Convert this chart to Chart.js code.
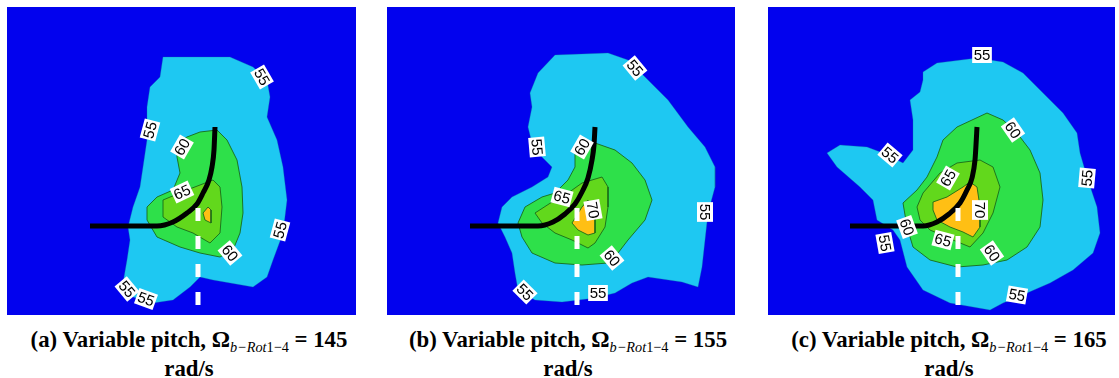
<!DOCTYPE html>
<html>
<head>
<meta charset="utf-8">
<script src="https://cdn.jsdelivr.net/npm/chart.js@4.4.1/dist/chart.umd.min.js"></script>
<style>
  html, body { margin: 0; padding: 0; background: #ffffff; width: 1119px; height: 378px; overflow: hidden; }
  .panel { position: absolute; top: 7px; height: 308px; }
  .cap { position: absolute; top: 326px; width: 420px; text-align: center; font-family: "Liberation Serif", "DejaVu Serif", serif; font-weight: bold; font-size: 24px; line-height: 26px; color: #000; transform: scaleX(0.95); transform-origin: center top; }
  .cap i { font-weight: normal; font-size: 15px; position: relative; top: 5px; }
</style>
</head>
<body>
<div class="panel" style="left:7px;width:349px"><canvas id="ca"></canvas></div>
<div class="panel" style="left:387px;width:348px"><canvas id="cb"></canvas></div>
<div class="panel" style="left:768px;width:347px"><canvas id="cc"></canvas></div>
<div class="cap" style="left:-21px">(a) Variable pitch, Ω<i>b−Rot</i><i style="font-style:normal">1−4</i> = 145<br>rad/s</div>
<div class="cap" style="left:358px">(b) Variable pitch, Ω<i>b−Rot</i><i style="font-style:normal">1−4</i> = 155<br>rad/s</div>
<div class="cap" style="left:739px">(c) Variable pitch, Ω<i>b−Rot</i><i style="font-style:normal">1−4</i> = 165<br>rad/s</div>
<script>
// ---- Data: contour outlines (in plot units), one list per level and panel ----
const captions = ["145", "155", "165"];
const levels = [55, 60, 65, 70];
const levelColors = ["#1ec8f2", "#2ee04a", "#62d81c", "#ffbf14"];

// axis extents per panel [xmin, xmax, ymin, ymax]
const extentA = [7, 356, 7, 315];
const extentB = [12, 360, 7, 315];
const extentC = [18, 365, 7, 315];

// Panel (a) 145 rad/s
const a55 = [[163,57],[230,57],[253,67],[267,80],[270,97],[267,117],[277,140],[283,167],[287,200],[283,233],[273,260],[267,277],[253,287],[213,280],[200,277],[190,287],[173,300],[153,303],[133,297],[123,283],[127,260],[130,240],[128,227],[133,207],[140,187],[143,167],[147,140],[147,107],[150,87],[160,77],[163,57]];
const a60 = [[187,137],[200,132],[217,130],[227,140],[237,160],[242,187],[243,213],[240,233],[233,250],[220,257],[200,253],[180,247],[157,237],[147,220],[147,207],[157,197],[173,190],[180,173],[177,157],[177,143],[187,137]];
const a65 = [[163,200],[187,190],[213,180],[220,187],[222,207],[220,233],[210,243],[193,233],[177,227],[163,217],[163,200]];
const a70 = [[203,213],[208,207],[211,210],[211,223],[205,220],[203,213]];
const aPath = [[90,226],[157,226],[173,222],[187,213],[197,204],[203,193],[209,180],[212,167],[214,150],[215,127]];
const aDash = [[198,208],[198,305]];
const aLabels = [["55",262,77,60],["55",150,130,-75],["60",182,147,-60],["65",182,192,-25],["55",280,230,-75],["60",230,253,50],["55",127,289,50],["55",146,299,20]];

// Panel (b) 155 rad/s
const b55 = [[180,55],[233,53],[253,60],[273,80],[293,100],[313,127],[330,147],[340,167],[340,187],[333,213],[330,240],[327,267],[323,287],[307,282],[273,277],[257,283],[240,293],[220,298],[187,302],[160,300],[143,290],[140,273],[137,253],[130,237],[123,223],[127,207],[137,197],[157,187],[173,177],[177,167],[167,157],[157,143],[153,127],[157,107],[155,93],[163,73],[180,55]];
const b60 = [[200,153],[220,143],[240,150],[257,163],[270,180],[277,200],[270,220],[253,240],[243,253],[233,263],[207,265],[180,263],[157,253],[147,237],[143,223],[150,207],[167,197],[180,193],[193,180],[200,167],[200,153]];
const b65 = [[160,213],[177,202],[193,193],[207,183],[227,177],[233,187],[233,207],[230,227],[220,243],[213,248],[197,240],[180,233],[167,223],[160,213]];
const b70 = [[197,223],[207,207],[213,200],[220,213],[220,233],[213,235],[203,230],[197,223]];
const bPath = [[95,226],[163,226],[178,222],[190,214],[200,204],[207,192],[213,178],[217,160],[219,145],[220,127]];
const bDash = [[202,208],[202,305]];
const bLabels = [["55",260,68,50],["55",162,147,85],["60",207,147,-60],["65",187,197,15],["70",218,210,80],["55",330,212,90],["60",237,258,50],["55",150,292,45],["55",223,293,0]];

// Panel (c) 165 rad/s
const c55 = [[173,72],[187,63],[227,58],[253,62],[273,73],[293,93],[313,113],[327,133],[330,153],[337,177],[347,207],[350,233],[343,253],[323,270],[300,283],[277,293],[253,303],[240,310],[200,303],[173,290],[157,267],[150,240],[143,230],[127,220],[123,200],[110,187],[87,167],[77,153],[90,145],[117,147],[133,153],[153,163],[163,150],[163,120],[160,100],[170,92],[173,80],[173,72]];
const c60 = [[207,127],[237,113],[253,120],[267,133],[280,150],[290,173],[293,200],[290,227],[277,247],[257,260],[233,265],[207,267],[180,260],[163,247],[157,227],[153,203],[167,190],[177,177],[187,157],[193,140],[207,127]];
const c65 = [[167,207],[173,193],[190,173],[207,163],[230,160],[243,167],[250,187],[243,213],[233,233],[220,247],[203,240],[180,230],[170,220],[167,207]];
const c70 = [[183,202],[197,197],[213,187],[220,182],[227,187],[230,207],[230,227],[223,237],[213,232],[200,227],[187,220],[183,210],[183,202]];
const cPath = [[100,226],[173,226],[187,222],[199,214],[210,203],[217,190],[222,178],[225,160],[226,145],[227,127]];
const cDash = [[208,208],[208,305]];
const cLabels = [["55",232,55,0],["60",263,130,55],["55",140,155,40],["65",198,178,-60],["70",230,210,90],["55",337,178,-85],["60",157,227,70],["55",135,243,80],["65",193,240,15],["60",242,253,55],["55",267,295,10]];

// ---- Rendering ----
const toXY = pts => pts.map(p => ({x: p[0], y: p[1]}));

const bgPlugin = {
  id: 'bg',
  beforeDraw(chart) {
    const {ctx, chartArea: a} = chart;
    ctx.save();
    ctx.fillStyle = '#0202ee';
    ctx.fillRect(a.left, a.top, a.right - a.left, a.bottom - a.top);
    ctx.restore();
  }
};

const labelPlugin = {
  id: 'contourLabels',
  afterDatasetsDraw(chart, args, opts) {
    const {ctx, scales} = chart;
    ctx.save();
    ctx.font = '15px "Liberation Sans", Arial, sans-serif';
    ctx.textAlign = 'center';
    ctx.textBaseline = 'middle';
    for (const [t, x, y, ang] of opts.items || []) {
      const px = scales.x.getPixelForValue(x);
      const py = scales.y.getPixelForValue(y);
      ctx.save();
      ctx.translate(px, py);
      ctx.rotate(ang * Math.PI / 180);
      const w = ctx.measureText(t).width + 3;
      ctx.fillStyle = '#ffffff';
      ctx.fillRect(-w / 2, -8, w, 16);
      ctx.fillStyle = '#000000';
      ctx.fillText(t, 0, 1);
      ctx.restore();
    }
    ctx.restore();
  }
};

function makePanel(id, ext, polys, path, dash, labels) {
  const datasets = [];
  datasets.push({ data: toXY(dash), showLine: true, borderColor: '#ffffff', borderWidth: 5, borderDash: [13, 15], pointRadius: 0, fill: false, order: 0 });
  datasets.push({ data: toXY(path), showLine: true, borderColor: '#000000', borderWidth: 5, pointRadius: 0, tension: 0.4, cubicInterpolationMode: 'monotone', fill: false, borderCapStyle: 'butt', order: 1 });
  for (let i = polys.length - 1; i >= 0; i--) {
    datasets.push({
      data: toXY(polys[i]), showLine: true, pointRadius: 0, tension: 0,
      backgroundColor: levelColors[i],
      borderColor: i === 0 ? 'rgba(20,120,160,0.5)' : '#1a6a1a',
      borderWidth: i === 0 ? 0.6 : 0.9,
      fill: 'shape', order: 10 + (polys.length - i)
    });
  }
  new Chart(document.getElementById(id), {
    type: 'scatter',
    data: { datasets },
    options: {
      responsive: true, maintainAspectRatio: false, animation: false,
      layout: { padding: 0 },
      plugins: { legend: { display: false }, tooltip: { enabled: false }, contourLabels: { items: labels } },
      scales: {
        x: { type: 'linear', display: false, min: ext[0], max: ext[1] },
        y: { type: 'linear', display: false, min: ext[2], max: ext[3], reverse: true }
      }
    },
    plugins: [bgPlugin, labelPlugin]
  });
}

makePanel('ca', extentA, [a55, a60, a65, a70], aPath, aDash, aLabels);
makePanel('cb', extentB, [b55, b60, b65, b70], bPath, bDash, bLabels);
makePanel('cc', extentC, [c55, c60, c65, c70], cPath, cDash, cLabels);
</script>
</body>
</html>
